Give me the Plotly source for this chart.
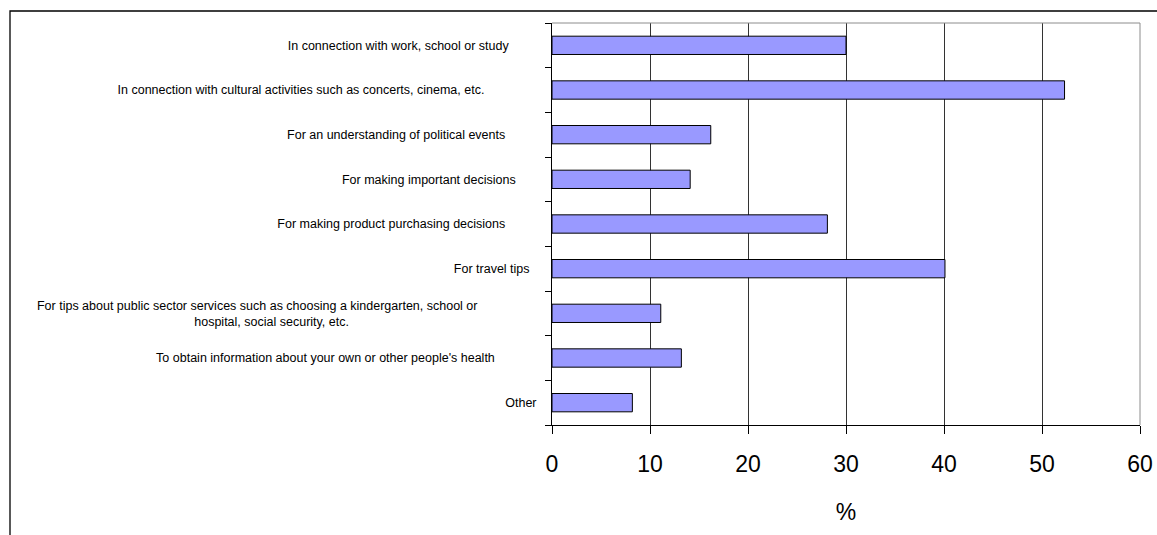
import plotly.graph_objects as go

# ---- data ----
categories = [
    "In connection with work, school or study",
    "In connection with cultural activities such as concerts, cinema, etc.",
    "For an understanding of political events",
    "For making important decisions",
    "For making product purchasing decisions",
    "For travel tips",
    "For tips about public sector services such as choosing a kindergarten, school or<br>hospital, social security, etc.",
    "To obtain information about your own or other people's health",
    "Other",
]
values = [30.0, 52.3, 16.2, 14.1, 28.1, 40.1, 11.1, 13.2, 8.2]
x_ticks = [0, 10, 20, 30, 40, 50, 60]
x_title = "%"

# ---- style: per-line right padding (in non-breaking spaces) to mimic label placement ----
label_pad = [[8], [15], [9], [6], [9], [2], [17, 54], [12], [0]]
NBSP = "\u00a0"


def padded(label, pads):
    lines = label.split("<br>")
    return "<br>".join(line + NBSP * p for line, p in zip(lines, pads))


tick_text = [padded(c, p) for c, p in zip(categories, label_pad)]

W, H = 1157, 535
ML, MR, MT, MB = 552, 17, 23, 110
PW, PH = W - ML - MR, H - MT - MB

fig = go.Figure(
    go.Bar(
        x=values,
        y=categories,
        orientation="h",
        width=0.41,
        marker=dict(color="#9999FF", line=dict(color="#000000", width=1)),
        hoverinfo="x+y",
    )
)

label_font = "Liberation Sans, Arial, sans-serif"
tick_font = "Liberation Sans, Arial, sans-serif"

fig.update_layout(
    width=W,
    height=H,
    margin=dict(l=ML, r=MR, t=MT, b=MB, pad=0, autoexpand=False),
    paper_bgcolor="white",
    plot_bgcolor="white",
    showlegend=False,
    xaxis=dict(
        range=[0, 60],
        tickvals=x_ticks,
        ticktext=[str(t) for t in x_ticks],
        showgrid=True,
        gridcolor="#333333",
        gridwidth=1,
        zeroline=False,
        showline=True,
        linecolor="#000000",
        linewidth=1,
        ticks="outside",
        ticklen=8,
        tickcolor="#000000",
        tickfont=dict(family=tick_font, size=23, color="#000000"),
        ticklabelstandoff=10,
        title=dict(text=x_title, font=dict(family=tick_font, size=23, color="#000000"), standoff=28),
        automargin=False,
        fixedrange=True,
    ),
    yaxis=dict(
        type="category",
        categoryorder="array",
        categoryarray=categories,
        autorange="reversed",
        tickvals=categories,
        ticktext=tick_text,
        tickson="boundaries",
        ticks="outside",
        ticklen=6,
        tickcolor="#000000",
        showgrid=False,
        zeroline=False,
        showline=True,
        linecolor="#000000",
        linewidth=1,
        tickfont=dict(family=label_font, size=12.5, color="#000000"),
        ticklabelstandoff=12,
        automargin=False,
        fixedrange=True,
    ),
    shapes=[
        # grey plot-area border on top and right
        dict(type="line", xref="paper", yref="paper", x0=0, x1=1, y0=1, y1=1,
             line=dict(color="#8c8c8c", width=1)),
        dict(type="line", xref="paper", yref="paper", x0=1, x1=1, y0=0, y1=1,
             line=dict(color="#8c8c8c", width=1)),
        # black outer chart frame
        dict(type="rect", xref="paper", yref="paper",
             x0=(10 - ML) / PW, x1=(W + 8 - ML) / PW,
             y0=(MT + PH - (H + 8)) / PH, y1=(MT + PH - 11) / PH,
             line=dict(color="#000000", width=1.3), fillcolor="rgba(0,0,0,0)"),
    ],
)

fig.write_html("out.html")
